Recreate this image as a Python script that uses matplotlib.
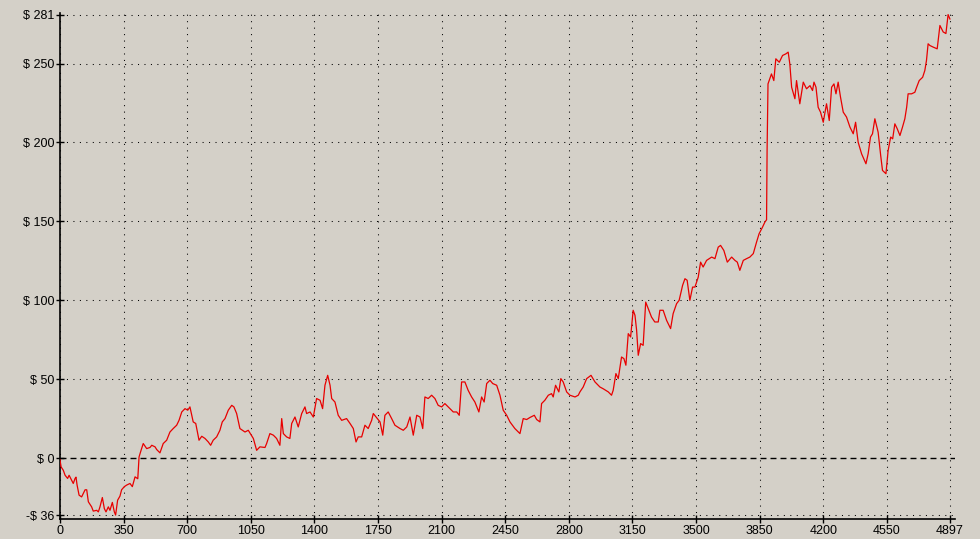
import matplotlib
matplotlib.use("Agg")
import matplotlib.pyplot as plt

# Equity curve (trade index -> cumulative $)
trade_idx = [
    0, 6, 18, 28, 42, 50, 64, 73, 83, 88, 94, 105, 119, 138, 147, 156, 174, 183,
    202, 211, 220, 233, 244, 253, 266, 275, 288, 299, 306, 317, 330, 339, 354,
    367, 385, 398, 413, 428, 435, 446, 458, 477, 495, 505, 523, 532, 550, 568,
    587, 605, 623, 642, 655, 670, 688, 703, 715, 733, 747, 765, 780, 798, 816,
    829, 843, 862, 880, 893, 908, 926, 945, 957, 972, 990, 1018, 1036, 1064,
    1082, 1100, 1128, 1137, 1155, 1174, 1192, 1210, 1220, 1229, 1247, 1265,
    1275, 1293, 1311, 1330, 1348, 1357, 1376, 1394, 1412, 1431, 1445, 1458,
    1473, 1486, 1495, 1513, 1531, 1550, 1577, 1596, 1614, 1629, 1641, 1660,
    1678, 1696, 1715, 1724, 1746, 1761, 1776, 1788, 1806, 1825, 1843, 1871,
    1889, 1908, 1926, 1944, 1963, 1981, 1996, 2008, 2026, 2045, 2063, 2081,
    2100, 2118, 2146, 2164, 2183, 2197, 2210, 2228, 2246, 2265, 2283, 2305,
    2320, 2334, 2348, 2366, 2381, 2403, 2421, 2439, 2458, 2476, 2503, 2531,
    2549, 2568, 2586, 2610, 2623, 2641, 2650, 2668, 2687, 2705, 2714, 2727,
    2745, 2756, 2769, 2788, 2806, 2834, 2852, 2861, 2879, 2898, 2922, 2944,
    2971, 2989, 3017, 3035, 3044, 3059, 3072, 3090, 3103, 3114, 3127, 3140,
    3154, 3164, 3173, 3182, 3195, 3209, 3223, 3237, 3255, 3273, 3292, 3301,
    3319, 3338, 3360, 3374, 3393, 3407, 3426, 3439, 3451, 3466, 3481, 3494,
    3512, 3525, 3539, 3558, 3586, 3604, 3622, 3635, 3653, 3672, 3696, 3714,
    3727, 3741, 3760, 3778, 3796, 3815, 3833, 3847, 3866, 3879, 3888, 3891,
    3896, 3915, 3928, 3939, 3958, 3976, 3994, 4007, 4016, 4026, 4044, 4053,
    4071, 4090, 4108, 4127, 4141, 4149, 4160, 4172, 4185, 4200, 4218, 4233,
    4246, 4259, 4270, 4282, 4295, 4310, 4328, 4347, 4365, 4378, 4392, 4411,
    4435, 4447, 4460, 4471, 4484, 4502, 4516, 4526, 4545, 4557, 4571, 4582,
    4594, 4607, 4622, 4636, 4649, 4659, 4667, 4686, 4704, 4714, 4728, 4747,
    4759, 4768, 4777, 4787, 4805, 4827, 4842, 4860, 4875, 4887, 4897,
]
equity = [
    -1, -5.5, -7.6, -10.8, -12.8, -10.8, -14, -16, -12.8, -12, -17, -23.4, -24.5,
    -20, -20, -27.6, -30.8, -33.5, -33, -34, -30.8, -24.9, -31.9, -34, -30.8,
    -33, -28, -34, -36, -26.6, -24, -20, -18, -17, -16, -18, -11.8, -13, 0.8,
    5, 9.3, 6.1, 6.8, 8.2, 7.2, 5.5, 3.4, 9.3, 11.4, 16.6, 18.8, 20.9, 24, 29.3,
    31.4, 30.4, 32.5, 23, 22, 11.4, 13.9, 12.5, 10.3, 8.2, 11.4, 13.5, 17.7, 23,
    25.1, 30.4, 33.5, 32.5, 28.3, 18.8, 16.6, 17.7, 12.5, 5, 7.2, 6.8, 9.3,
    15.6, 14.6, 12.5, 8.2, 25.1, 15.6, 13.5, 12.5, 22, 26.1, 19.8, 28.3, 32.5,
    28.3, 29.3, 26.1, 37.8, 36.7, 31.4, 46.2, 52.5, 46.2, 37.8, 35.6, 27.2, 24,
    25.1, 22, 18.8, 10.3, 13.5, 13.5, 20.9, 18.8, 24, 28.3, 25.1, 23, 14.6,
    27.2, 29.3, 25.1, 20.9, 18.8, 17.7, 19.8, 26.1, 14.6, 27.2, 26.1, 18.8,
    38.8, 37.8, 39.9, 37.8, 33.5, 32.5, 34.6, 31.4, 29.3, 29.3, 27.2, 48.3,
    48.3, 43, 38.8, 35.6, 29.3, 38.8, 35.6, 47.3, 49.4, 47.3, 46.2, 39.9, 30.4,
    27.2, 23, 18.8, 15.6, 25.1, 24.5, 25.8, 27.2, 24.5, 23, 34.6, 36.7, 39.9,
    40.9, 38.8, 46.2, 42, 50.4, 48.3, 42, 39.9, 38.8, 39.9, 42, 45.1, 50.4,
    52.5, 48.3, 45.1, 44, 42, 39.9, 43, 53.6, 50.4, 64.1, 63.1, 58.9, 78.9,
    76.8, 93.7, 90.5, 81, 65.2, 72.6, 71.5, 98.9, 94.7, 89.4, 86.3, 86.3, 93.7,
    93.7, 87.3, 82.1, 91.6, 97.9, 100, 109.5, 113.7, 112.7, 100, 108.4, 108.4,
    114.7, 124.2, 121.1, 125.3, 127.4, 126.4, 133.7, 134.8, 131.6, 124.2,
    127.4, 125.3, 124.2, 119, 125.3, 126.4, 127.4, 129.6, 136.9, 142.2, 146.4,
    149.6, 151, 195, 237.1, 243.4, 239.2, 253, 250.8, 255.1, 256.1, 257.2,
    249.8, 235, 227.7, 239.2, 224.5, 238.2, 234, 236, 232.9, 238.2, 235, 222.3,
    219.2, 212.8, 224.5, 213.9, 235, 237.1, 230.8, 238.2, 228.7, 219.2, 216.1,
    209.7, 205.5, 212.8, 200.2, 192.8, 186.5, 192.8, 203.4, 205.5, 215, 206.5,
    191.8, 182.3, 180.2, 194.9, 203.4, 202.3, 211.8, 208.7, 204.4, 209.7, 215,
    222.3, 230.8, 230.8, 231.8, 235, 239.2, 241.3, 245.6, 251.9, 262.5, 261.4,
    260.4, 259.3, 274.1, 270, 269, 281, 278.2,
]

x_ticks = [0, 350, 700, 1050, 1400, 1750, 2100, 2450, 2800, 3150, 3500,
           3850, 4200, 4550, 4897]
y_ticks = [-36, 0, 50, 100, 150, 200, 250, 281]
y_labels = ["-$ 36", "$ 0", "$ 50", "$ 100", "$ 150", "$ 200", "$ 250", "$ 281"]

BG = "#D4D0C8"
plt.rcParams["font.family"] = ["Liberation Sans", "DejaVu Sans"]

fig = plt.figure(figsize=(9.8, 5.39), dpi=100, facecolor=BG)
ax = fig.add_axes([60 / 980, 20 / 539, 895 / 980, 506 / 539], facecolor=BG)

# sparse dotted grid at every tick, dashed line at zero
dots = (0, (1, 5.2))
for xv in x_ticks:
    ax.axvline(xv, color="black", linewidth=0.75, linestyle=dots, zorder=1)
for yv in y_ticks:
    if yv == 0:
        ax.axhline(0, color="black", linewidth=1, linestyle=(0, (4.3, 2.9)), zorder=1)
    else:
        ax.axhline(yv, color="black", linewidth=0.75, linestyle=dots, zorder=1)

ax.plot(trade_idx, equity, color="#E80000", linewidth=0.9, zorder=3)

ax.set_xlim(0, 4925)
ax.set_ylim(-38.5, 282)
ax.set_xticks(x_ticks)
ax.set_xticklabels([str(v) for v in x_ticks])
ax.set_yticks(y_ticks)
ax.set_yticklabels(y_labels)
ax.tick_params(direction="inout", length=6, width=1, labelsize=9, pad=1,
               colors="black")

for side in ("top", "right"):
    ax.spines[side].set_visible(False)
for side in ("left", "bottom"):
    ax.spines[side].set_linewidth(1.2)

fig.savefig("out.png", dpi=100, facecolor=BG)
